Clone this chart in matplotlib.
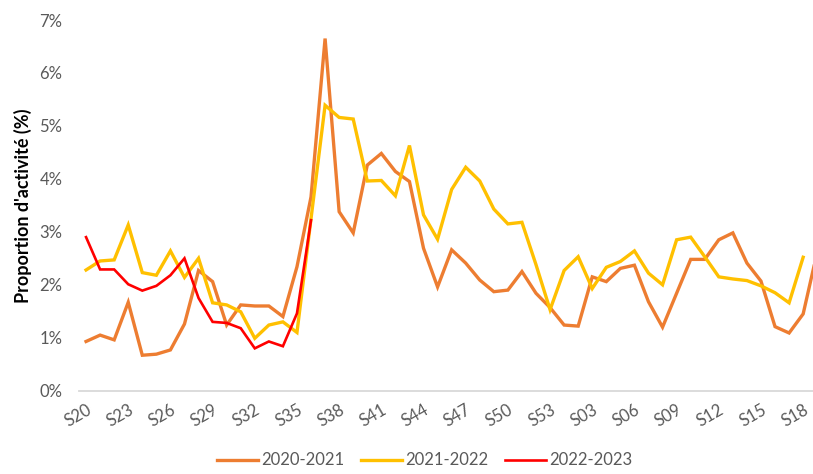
import matplotlib
matplotlib.use("Agg")
import matplotlib.pyplot as plt
from matplotlib.ticker import FuncFormatter

weeks = [f"S{w:02d}" for w in list(range(20, 54)) + list(range(1, 20))]

s2020 = [0.93, 1.05, 0.96, 1.67, 0.67, 0.69, 0.77, 1.26, 2.27, 2.06,
         1.24, 1.62, 1.60, 1.60, 1.40, 2.34, 3.66, 6.65, 3.38, 2.98,
         4.26, 4.48, 4.14, 3.95, 2.69, 1.96, 2.66, 2.41, 2.09, 1.87,
         1.90, 2.25, 1.84, 1.57, 1.24, 1.22, 2.15, 2.06, 2.31, 2.37,
         1.68, 1.20, 1.84, 2.48, 2.48, 2.85, 2.98, 2.41, 2.07, 1.21,
         1.09, 1.45, 2.62]

s2021 = [2.28, 2.45, 2.47, 3.13, 2.23, 2.18, 2.64, 2.14, 2.50, 1.66,
         1.62, 1.49, 0.99, 1.24, 1.30, 1.10, 3.25, 5.39, 5.16, 5.13,
         3.96, 3.97, 3.68, 4.63, 3.32, 2.86, 3.80, 4.22, 3.96, 3.43,
         3.15, 3.18, 2.38, 1.53, 2.27, 2.53, 1.93, 2.33, 2.44, 2.64,
         2.22, 2.00, 2.85, 2.90, 2.53, 2.15, 2.11, 2.08, 1.98, 1.85,
         1.66, 2.52]

s2022 = [2.90, 2.29, 2.29, 2.01, 1.89, 1.98, 2.18, 2.50, 1.75, 1.30,
         1.28, 1.18, 0.80, 0.93, 0.84, 1.46, 3.22]

series_names = ["2020-2021", "2021-2022", "2022-2023"]
colors = ["#ED7D31", "#FFC000", "#FF0000"]

plt.rcParams['font.family'] = ['Lato', 'DejaVu Sans']

fig = plt.figure(figsize=(8.13, 4.74), dpi=100)
ax = fig.add_axes([0.0972, 0.1757, 0.9028, 0.7821])

ax.plot(range(len(s2020)), s2020, color=colors[0], lw=2.4, label=series_names[0], solid_joinstyle='miter')
ax.plot(range(len(s2021)), s2021, color=colors[1], lw=2.4, label=series_names[1], solid_joinstyle='miter')
ax.plot(range(len(s2022)), s2022, color=colors[2], lw=1.9, label=series_names[2], solid_joinstyle='miter')

ax.set_xlim(-0.5, 51.7)
ax.set_ylim(0, 7)
ax.set_yticks(range(0, 8))
ax.yaxis.set_major_formatter(FuncFormatter(lambda v, p: f"{int(v)}%"))

tick_idx = list(range(0, len(weeks), 3))
ax.set_xticks(tick_idx)
ax.set_xticklabels([weeks[i] for i in tick_idx], rotation=30, ha='right',
                   rotation_mode='anchor')

for s in ['top', 'right', 'left']:
    ax.spines[s].set_visible(False)
ax.spines['bottom'].set_color('#D9D9D9')
ax.spines['bottom'].set_linewidth(1.3)
ax.tick_params(axis='both', length=0, colors='#595959', labelsize=12)
ax.tick_params(axis='x', pad=8)
ax.tick_params(axis='y', pad=12)

ax.set_ylabel("Proportion d'activité (%)", fontsize=13, fontweight='bold',
              color='black', labelpad=5)

fig.legend(loc='lower center', bbox_to_anchor=(0.522, -0.02), ncol=3, frameon=False,
           fontsize=12, labelcolor='#595959', handlelength=2.5, handletextpad=0.15,
           columnspacing=1.0)

fig.savefig("out.png", dpi=100)
